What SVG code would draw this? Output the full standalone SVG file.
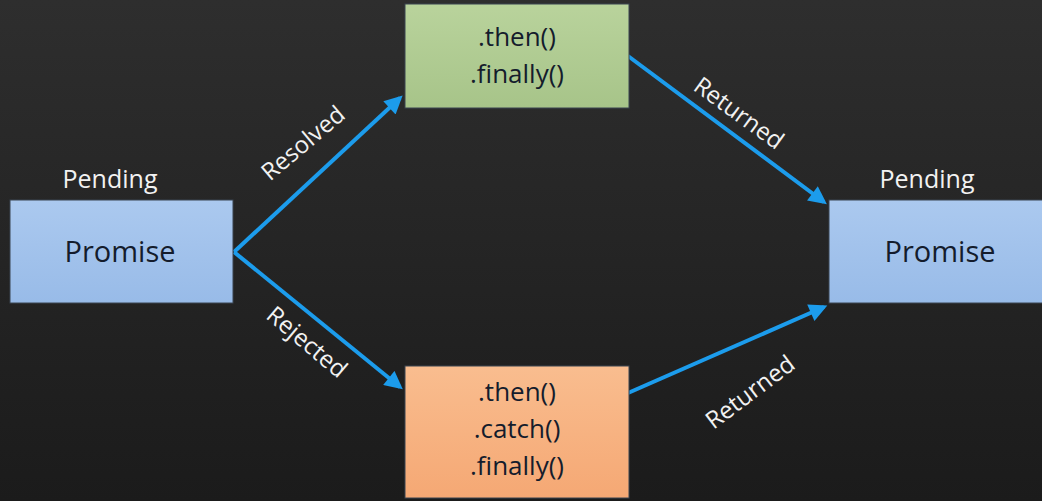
<svg xmlns="http://www.w3.org/2000/svg" width="1042" height="501" viewBox="0 0 1042 501">
<defs>
<linearGradient id="bg" x1="0" y1="0" x2="0" y2="1"><stop offset="0" stop-color="#2e2e2e"/><stop offset="1" stop-color="#1b1b1b"/></linearGradient>
<linearGradient id="blue" x1="0" y1="0" x2="0" y2="1"><stop offset="0" stop-color="#abc9ef"/><stop offset="1" stop-color="#98bbe8"/></linearGradient>
<linearGradient id="green" x1="0" y1="0" x2="0" y2="1"><stop offset="0" stop-color="#b9d39c"/><stop offset="1" stop-color="#a7c489"/></linearGradient>
<linearGradient id="orange" x1="0" y1="0" x2="0" y2="1"><stop offset="0" stop-color="#f9bd8f"/><stop offset="1" stop-color="#f5a874"/></linearGradient>
<marker id="ah" viewBox="0 0 10 10" refX="8" refY="5" markerWidth="5" markerHeight="4.5" orient="auto" markerUnits="strokeWidth"><path d="M0,0 L10,5 L0,10 z" fill="#1c9cec"/></marker>
<style>
.box{stroke:#3a4450;stroke-width:1}
.t{font-family:"Open Sans","Liberation Sans",sans-serif;fill:#141c2c;text-anchor:middle}
.w{font-family:"Open Sans","Liberation Sans",sans-serif;fill:#f2f2f2;text-anchor:middle}
.c{stroke:#1c9cec;stroke-width:4;fill:none;marker-end:url(#ah)}
</style>
</defs>
<rect width="1042" height="501" fill="url(#bg)"/>
<g id="connectors">
<path class="c" d="M234,252 L400,98"/>
<path class="c" d="M234,252 L400,387"/>
<path class="c" d="M628,56 L824,202"/>
<path class="c" d="M628,393 L824,307"/>
<text class="w" font-size="24" dy="0.35em" transform="translate(303,143) rotate(-40)">Resolved</text>
<text class="w" font-size="24" dy="0.35em" transform="translate(307,342) rotate(40)">Rejected</text>
<text class="w" font-size="24" dy="0.35em" transform="translate(739,113) rotate(36)">Returned</text>
<text class="w" font-size="24" dy="0.35em" transform="translate(750,392) rotate(-37)">Returned</text>
</g>
<g id="promise-left">
<text class="w" font-size="25" x="110" y="188">Pending</text>
<rect class="box" x="10" y="200" width="223" height="103" fill="url(#blue)"/>
<text class="t" font-size="29" x="120" y="262">Promise</text>
</g>
<g id="then-finally">
<rect class="box" x="405" y="4" width="224" height="104" fill="url(#green)"/>
<text class="t" font-size="26" x="517" y="46">.then()</text>
<text class="t" font-size="26" x="517" y="83">.finally()</text>
</g>
<g id="then-catch-finally">
<rect class="box" x="405" y="366" width="224" height="132" fill="url(#orange)"/>
<text class="t" font-size="26" x="517" y="401">.then()</text>
<text class="t" font-size="26" x="517" y="438">.catch()</text>
<text class="t" font-size="26" x="517" y="475">.finally()</text>
</g>
<g id="promise-right">
<text class="w" font-size="25" x="927" y="188">Pending</text>
<rect class="box" x="829" y="200" width="215" height="103" fill="url(#blue)"/>
<text class="t" font-size="29" x="940" y="262">Promise</text>
</g>
</svg>
